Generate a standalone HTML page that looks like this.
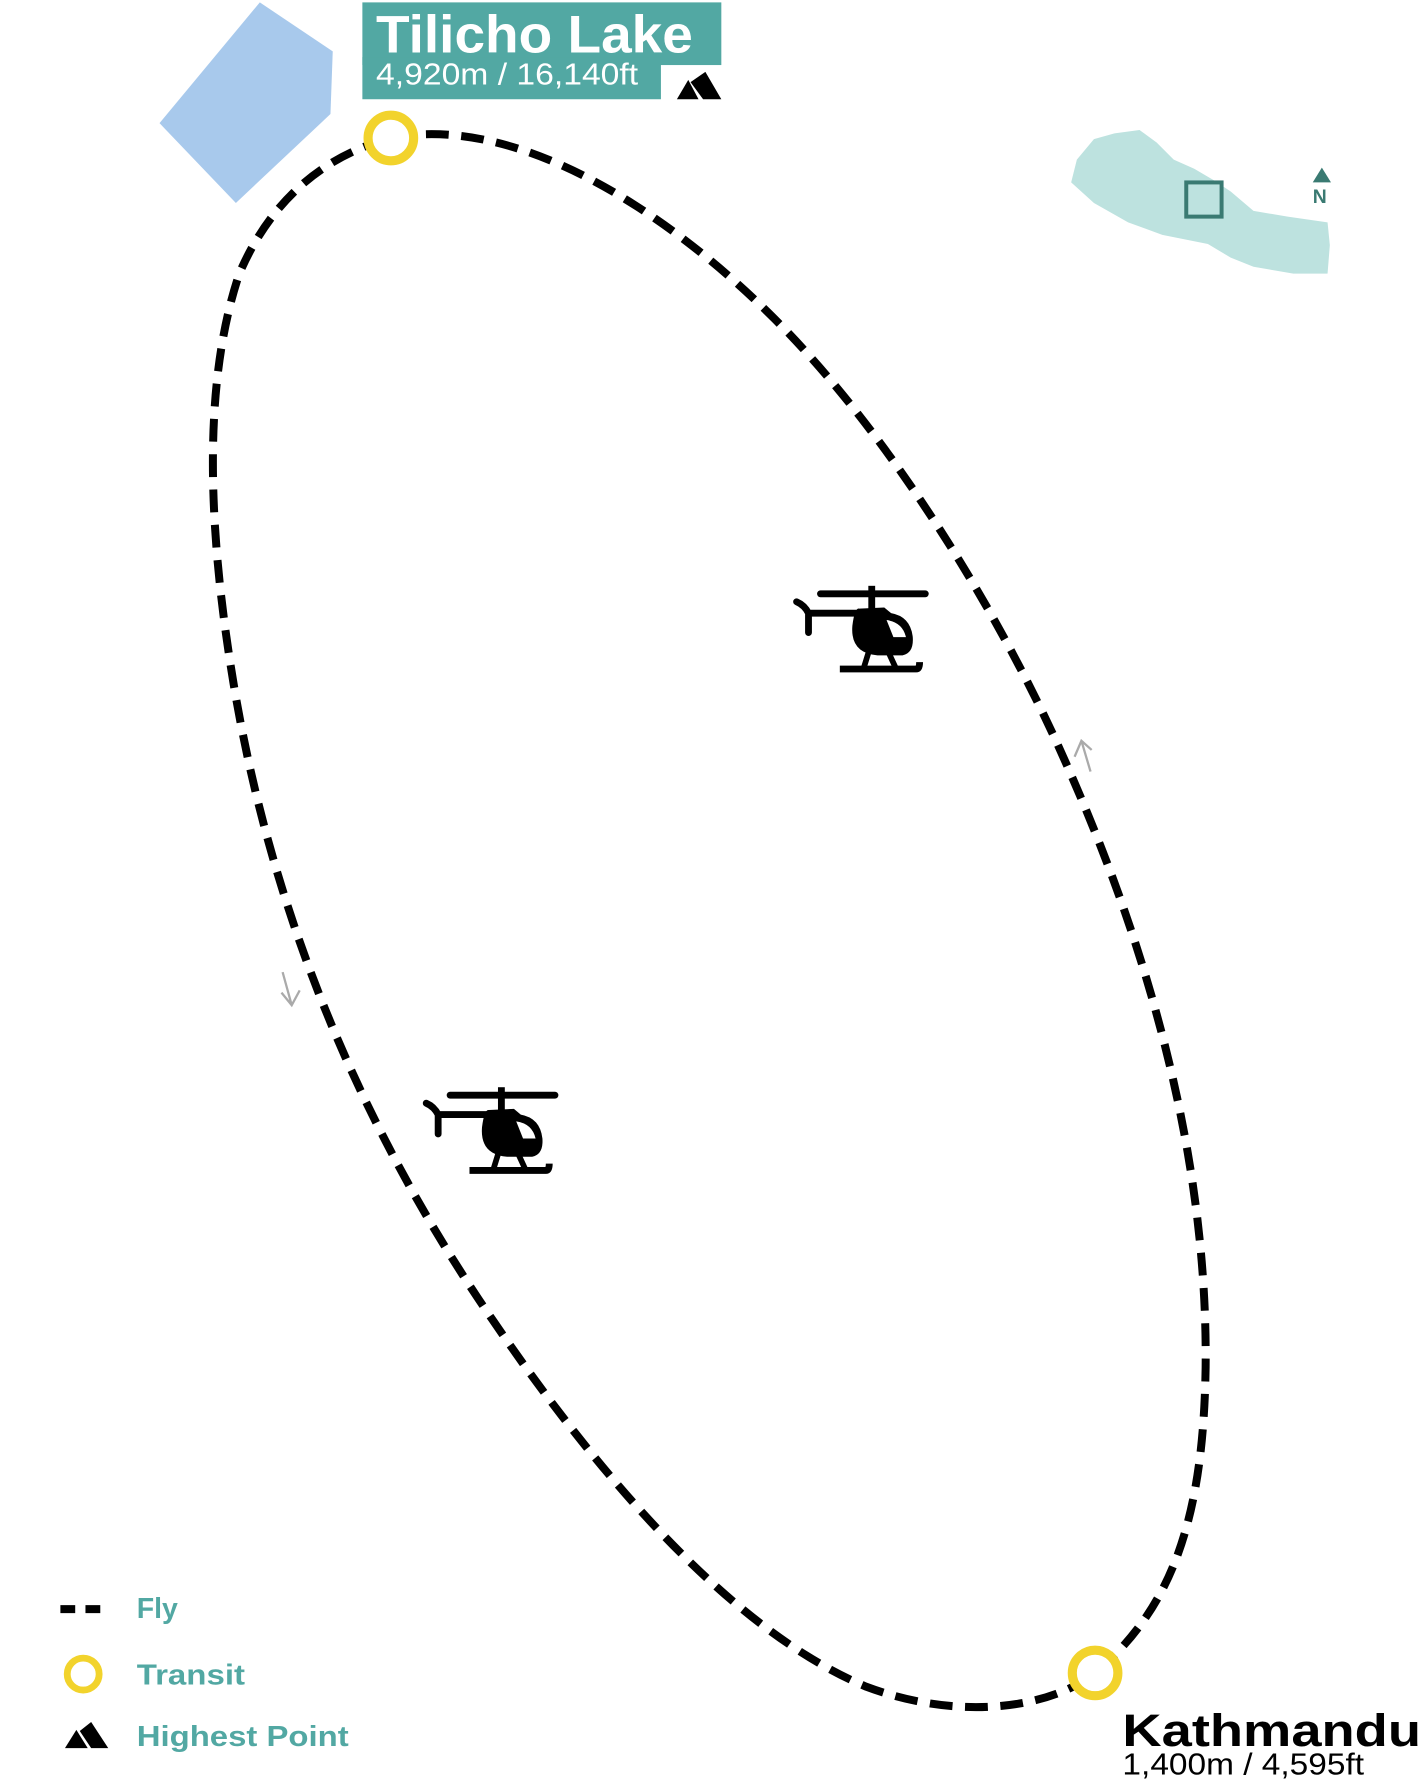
<!DOCTYPE html>
<html><head><meta charset="utf-8"><style>
html,body{margin:0;padding:0;background:#fff;}
svg{display:block;}
</style></head><body>
<svg width="1421" height="1787" viewBox="0 0 1247 1568" xmlns="http://www.w3.org/2000/svg">
<defs>
<g id="heli">
  <line x1="28" y1="12" x2="120" y2="12" stroke="#000" stroke-width="6" stroke-linecap="round"/>
  <rect x="70" y="5" width="6" height="22" fill="#000"/>
  <path d="M7,19 Q14,22 17.5,29 L17.5,46 M17.5,29 L62,29" fill="none" stroke="#000" stroke-width="6" stroke-linecap="round"/>
  <path d="M62,25 Q58,24 56,40 Q54,64 78,66 L100,66 Q110,64 109,50 Q107,32 90,29 L84,24 Z" fill="#000"/>
  <path d="M86,35 Q100,37 103,50 L92,50 Z" fill="#fff"/>
  <path d="M70,64 L66,77 M88,64 L94,77" stroke="#000" stroke-width="5" fill="none"/>
  <path d="M45,78 L112,78 Q115,78 115,72" stroke="#000" stroke-width="6" fill="none"/>
</g>
</defs>
<polygon points="228,2 292,45 290,100 207,178 140,108" fill="#a8c9ec"/>
<rect x="318" y="2" width="315" height="55" fill="#52a8a3"/>
<rect x="318" y="50" width="262" height="37" fill="#52a8a3"/>
<text x="330" y="46" font-family="Liberation Sans, sans-serif" font-weight="bold" font-size="46" fill="#fff" textLength="278" lengthAdjust="spacingAndGlyphs">Tilicho Lake</text>
<text x="330" y="74" font-family="Liberation Sans, sans-serif" font-size="27" fill="#fff" textLength="230" lengthAdjust="spacingAndGlyphs">4,920m / 16,140ft</text>
<polygon points="594,87 604,70 613,87" fill="#000"/>
<polygon points="606,72 619,63 633,87 617,87" fill="#000"/>
<path d="M343,121 C450,100 580,180 680,280 C780,380 880,540 940,680 C1010,840 1060,1020 1058,1200 C1056,1330 1030,1410 961,1468 C920,1500 840,1510 760,1480 C640,1430 520,1290 420,1140 C320,990 240,810 205,600 C180,450 180,330 210,240 C240,170 290,135 343,121 Z" fill="none" stroke="#000" stroke-width="7" stroke-dasharray="20 11"/>
<circle cx="343" cy="121" r="20" fill="#fff" stroke="#f2d32c" stroke-width="8"/>
<circle cx="961" cy="1468" r="20" fill="#fff" stroke="#f2d32c" stroke-width="8"/>
<use href="#heli" transform="translate(692,509)"/>
<use href="#heli" transform="translate(367,949)"/>
<path d="M248,853 L256,882 M247,871 L256,882 L263,869" fill="none" stroke="#aaa" stroke-width="2"/>
<path d="M957,677 L949,650 M943,664 L949,650 L958,658" fill="none" stroke="#aaa" stroke-width="2"/>
<polygon points="940,160 945,140 960,122 978,117 1000,114 1015,125 1030,140 1048,148 1065,158 1080,168 1100,185 1130,190 1165,195 1167,215 1165,240 1135,240 1100,234 1080,226 1060,214 1020,206 990,195 960,178" fill="#bde2df"/>
<rect x="1041" y="160" width="31" height="30" fill="none" stroke="#3a7a72" stroke-width="3.5"/>
<polygon points="1152,160 1160,147 1168,160" fill="#3a7a72"/>
<text x="1152" y="178" font-family="Liberation Sans, sans-serif" font-weight="bold" font-size="17" fill="#3a7a72">N</text>
<text x="985" y="1532" font-family="Liberation Sans, sans-serif" font-weight="bold" font-size="40" fill="#000" textLength="262" lengthAdjust="spacingAndGlyphs">Kathmandu</text>
<text x="985" y="1557" font-family="Liberation Sans, sans-serif" font-size="27" fill="#000" textLength="212" lengthAdjust="spacingAndGlyphs">1,400m / 4,595ft</text>
<line x1="53" y1="1412" x2="92" y2="1412" stroke="#000" stroke-width="7" stroke-dasharray="13 9"/>
<text x="120" y="1420" font-family="Liberation Sans, sans-serif" font-weight="bold" font-size="25" fill="#52a8a3">Fly</text>
<circle cx="73" cy="1469" r="14" fill="#fff" stroke="#f2d32c" stroke-width="6"/>
<text x="120" y="1478" font-family="Liberation Sans, sans-serif" font-weight="bold" font-size="25" fill="#52a8a3" textLength="95" lengthAdjust="spacingAndGlyphs">Transit</text>
<polygon points="57,1534 67,1518 77,1534" fill="#000"/>
<polygon points="70,1519 80,1511 95,1534 80,1534" fill="#000"/>
<text x="120" y="1532" font-family="Liberation Sans, sans-serif" font-weight="bold" font-size="25" fill="#52a8a3" textLength="186" lengthAdjust="spacingAndGlyphs">Highest Point</text>
</svg>
</body></html>
